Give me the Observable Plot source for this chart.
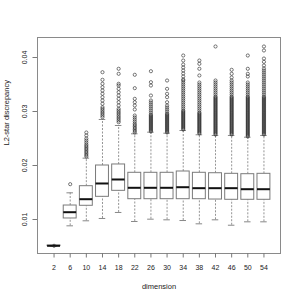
<!DOCTYPE html>
<html><head><meta charset="utf-8">
<script src="https://cdn.jsdelivr.net/npm/d3@7"></script>
<script src="https://cdn.jsdelivr.net/npm/@observablehq/plot@0.6"></script>
<style>html,body{margin:0;padding:0;background:#fff}svg{display:block}</style>
</head><body><div id="chart"></div>
<script>
const dims = ["2","6","10","14","18","22","26","30","34","38","42","46","50","54"];
const q1 =      [.00508,.01019,.01254,.01420,.01531,.01376,.01376,.01376,.01376,.01376,.01370,.01365,.01365,.01365];
const med =     [.00513,.01135,.01376,.01667,.01741,.01587,.01587,.01587,.01598,.01580,.01580,.01580,.01561,.01561];
const q3 =      [.00518,.01259,.01617,.02000,.02019,.01865,.01865,.01865,.01889,.01865,.01857,.01846,.01839,.01846];
const whiskLo = [.00505,.00883,.00976,.01019,.01130,.00963,.01006,.00994,.00981,.00920,.00994,.00894,.00957,.00957];
const whiskHi = [.00521,.01494,.02136,.02852,.02741,.02587,.02617,.02598,.02648,.02569,.02556,.02556,.02524,.02556];
const outliers = [
  [.00513],
  [.01654],
  [.02611,.02556,.02500,.02463,.02426,.02389,.02361,.02333,.02306,.02278,.02250,.02222,.02194,.02167],
  [.03728,.03587,.03513,.03450,.03389,.03328,.03265,.03204,.03143,.03080,.03050,.03019,.02987,.02958,.02926,.02895],
  [.03791,.03698,.03513,.03481,.03420,.03357,.03296,.03235,.03172,.03111,.03050,.03019,.02987,.02958,.02926,.02895,.02865,.02833,.02802],
  [.03680,.03432,.03235,.03172,.03111,.03037,.02926,.02889,.02852,.02815,.02778,.02750,.02722,.02694,.02667,.02639,.02611],
  [.03746,.03543,.03481,.03296,.03204,.03167,.03130,.03093,.03056,.03019,.02981,.02944,.02907,.02870,.02833,.02796,.02759,.02722,.02685,.02648,
   .02926,.02889,.02852,.02815,.02778,.02741,.02704,.02667,.02630],
  [.03574,.03420,.03328,.03265,.03172,.03111,.03074,.03037,.03000,.02963,.02926,.02889,.02852,.02815,.02778,.02741,.02704,.02667,.02630,
   .02944,.02907,.02870,.02833,.02796,.02759,.02722,.02685,.02648,.02611],
  [.04037,.03944,.03870,.03815,.03759,.03704,.03648,.03593,.03574,.03537,.03500,.03463,.03426,.03389,.03352,.03315,.03278,.03241,.03204,.03167,
   .03130,.03093,.03056,.03019,.03000,.02981,.02963,.02944,.02926,.02907,.02889,.02870,.02852,.02833,.02815,.02796,.02778,.02759,.02741,.02722,
   .02704,.02685,.02667],
  [.03944,.03883,.03791,.03667,.03537,.03500,.03463,.03426,.03389,.03352,.03315,.03278,.03241,.03204,.03167,.03130,.03093,.03056,.03019,.02981,
   .02944,.02907,.02870,.02833,.02796,.02759,.02722,.02685,.02648,.02611,.02963,.02926,.02889,.02852,.02815,.02778,.02741,.02704,.02667,.02630,.02593],
  [.04204,.03574,.03537,.03500,.03463,.03426,.03389,.03352,.03315,.03278,.03241,.03204,.03167,.03130,.03093,.03056,.03019,.02981,.02944,.02907,
   .02870,.02833,.02796,.02759,.02722,.02685,.02648,.02611,.02574,.03000,.02963,.02926,.02889,.02852,.02815,.02778,.02741,.02704,.02667,.02630,
   .02593,.03259,.03222,.03185,.03148,.03111,.03074,.03037],
  [.03772,.03698,.03630,.03574,.03537,.03500,.03463,.03426,.03389,.03352,.03315,.03278,.03241,.03204,.03167,.03130,.03093,.03056,.03019,.02981,
   .02944,.02907,.02870,.02833,.02796,.02759,.02722,.02685,.02648,.02611,.02574,.03000,.02963,.02926,.02889,.02852,.02815,.02778,.02741,.02704,
   .02667,.02630,.02593,.03259,.03222,.03185,.03148,.03111,.03074,.03037],
  [.04037,.03791,.03698,.03648,.03537,.03500,.03463,.03426,.03389,.03352,.03315,.03278,.03241,.03204,.03167,.03130,.03093,.03056,.03019,.02981,
   .02944,.02907,.02870,.02833,.02796,.02759,.02722,.02685,.02648,.02611,.02574,.02556,.02537,.03000,.02963,.02926,.02889,.02852,.02815,.02778,
   .02741,.02704,.02667,.02630,.02593,.03259,.03222,.03185,.03148,.03111,.03074,.03037],
  [.04204,.04130,.03981,.03920,.03852,.03796,.03759,.03722,.03685,.03648,.03611,.03574,.03537,.03500,.03463,.03426,.03389,.03352,.03315,.03278,
   .03241,.03204,.03167,.03130,.03093,.03056,.03019,.02981,.02944,.02907,.02870,.02833,.02796,.02759,.02722,.02685,.02648,.02611,.02574,.03000,
   .02963,.02926,.02889,.02852,.02815,.02778,.02741,.02704,.02667,.02630,.02593,.03259,.03222,.03185,.03148,.03111,.03074,.03037]
];
const yTicks = [0.01, 0.02, 0.03, 0.04];
const xTitle = "dimension";
const yTitle = "L2-star discrepancy";

const boxes = dims.map((d, i) => ({dim: d, q1: q1[i], med: med[i], q3: q3[i], lo: whiskLo[i], hi: whiskHi[i]}));
const outs = dims.flatMap((d, i) => outliers[i].map(v => ({dim: d, v})));

const grey = "#7a7a7a";
const plot = Plot.plot({
  width: 300, height: 300,
  marginLeft: 37, marginRight: 20, marginTop: 37, marginBottom: 47,
  style: {fontFamily: "'Liberation Sans', Arial, sans-serif", fontSize: "7px", background: "#fff", color: "#222"},
  x: {type: "band", domain: dims, paddingInner: 0.2, paddingOuter: 0.625, round: false, label: null},
  y: {domain: [0.003704, 0.043704], label: null},
  marks: [
    Plot.ruleX(boxes, {x: "dim", y1: "q3", y2: "hi", stroke: grey, strokeWidth: 0.8, strokeDasharray: "2,1.5"}),
    Plot.ruleX(boxes, {x: "dim", y1: "lo", y2: "q1", stroke: grey, strokeWidth: 0.8, strokeDasharray: "2,1.5"}),
    Plot.tickY(boxes, {x: "dim", y: "hi", stroke: grey, strokeWidth: 0.9, insetLeft: 3.2, insetRight: 3.2}),
    Plot.tickY(boxes, {x: "dim", y: "lo", stroke: grey, strokeWidth: 0.9, insetLeft: 3.2, insetRight: 3.2}),
    Plot.barY(boxes, {x: "dim", y1: "q1", y2: "q3", fill: "#fff", stroke: grey, strokeWidth: 1}),
    Plot.tickY(boxes, {x: "dim", y: "med", stroke: "#111", strokeWidth: 2}),
    Plot.dot(outs, {x: "dim", y: "v", r: 1.6, stroke: "#222", strokeWidth: 0.6, fill: "none"}),
    Plot.frame({stroke: "#8a8a8a", strokeWidth: 1}),
    Plot.axisX({tickSize: 4.5, tickPadding: 7, stroke: grey, label: null}),
    Plot.axisY({ticks: yTicks, tickSize: 4.5, tickFormat: () => "", stroke: grey, label: null}),
    Plot.text(yTicks, {y: d => d, text: d3.format(".2f"), frameAnchor: "left", dx: -13, rotate: -90, textAnchor: "middle", lineAnchor: "middle", fontSize: 7, fill: "#222"}),
    Plot.text([xTitle], {text: d => d, frameAnchor: "bottom", dy: 33, lineAnchor: "middle", fontSize: 7.5, fill: "#222"}),
    Plot.text([yTitle], {text: d => d, frameAnchor: "left", dx: -31, rotate: -90, lineAnchor: "middle", fontSize: 7.5, fill: "#222"})
  ]
});
document.getElementById("chart").appendChild(plot);
</script>
</body></html>
